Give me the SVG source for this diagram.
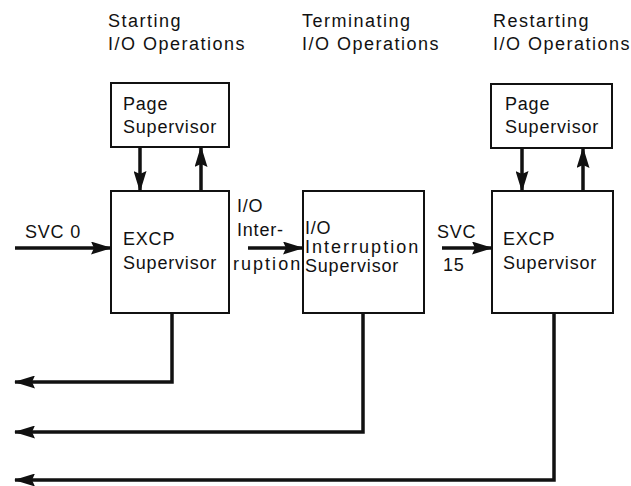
<svg xmlns="http://www.w3.org/2000/svg" width="631" height="486" viewBox="0 0 631 486">
  <defs>
    <style>
      text { font-family: "Liberation Sans", Arial, sans-serif; font-size: 18px; letter-spacing: 0.8px; fill: #111; }
      .head { letter-spacing: 1.5px; }
      .box { fill: #fff; stroke: #111; stroke-width: 2; }
      .wire { fill: none; stroke: #111; stroke-width: 3.5; }
    </style>
    <marker id="head" viewBox="0 0 21 13" refX="20" refY="6.5" markerWidth="21" markerHeight="13" markerUnits="userSpaceOnUse" orient="auto">
      <path d="M0,0 L21,6.5 L0,13 L3,6.5 Z" fill="#111"/>
    </marker>
  </defs>

  <rect width="631" height="486" fill="#fff"/>

  <!-- column headings -->
  <text class="head" x="108" y="27">Starting<tspan x="108" y="50">I/O Operations</tspan></text>
  <text class="head" x="302" y="27">Terminating<tspan x="302" y="50">I/O Operations</tspan></text>
  <text class="head" x="493" y="27">Restarting<tspan x="493" y="50">I/O Operations</tspan></text>

  <g id="page-supervisor-1">
    <rect class="box" x="111" y="83" width="118" height="64"/>
    <text x="123" y="110">Page<tspan x="123" y="133">Supervisor</tspan></text>
  </g>

  <g id="excp-supervisor-1">
    <rect class="box" x="111" y="191" width="118" height="122"/>
    <text x="123" y="245">EXCP<tspan x="123" y="269">Supervisor</tspan></text>
  </g>

  <g id="io-interruption-supervisor">
    <rect class="box" x="303" y="191" width="121" height="122"/>
    <text x="305" y="234">I/O</text>
    <text x="305" y="253" textLength="114" lengthAdjust="spacing">Interruption</text>
    <text x="305" y="272">Supervisor</text>
  </g>

  <g id="page-supervisor-2">
    <rect class="box" x="491" y="84" width="121" height="64"/>
    <text x="505" y="110">Page<tspan x="505" y="133">Supervisor</tspan></text>
  </g>

  <g id="excp-supervisor-2">
    <rect class="box" x="492" y="191" width="121" height="122"/>
    <text x="503" y="245">EXCP<tspan x="503" y="269">Supervisor</tspan></text>
  </g>

  <!-- connector labels -->
  <text x="25" y="238">SVC 0</text>
  <text x="237" y="212">I/O<tspan x="237" y="236">Inter-</tspan></text>
  <text x="233" y="270" textLength="68" lengthAdjust="spacing">ruption</text>
  <text x="437" y="238">SVC<tspan x="443" y="271">15</tspan></text>

  <g id="connectors">
    <line class="wire" x1="15" y1="248" x2="111" y2="248" marker-end="url(#head)"/>
    <line class="wire" x1="248" y1="248" x2="303" y2="248" marker-end="url(#head)"/>
    <line class="wire" x1="442" y1="248" x2="492" y2="248" marker-end="url(#head)"/>

    <line class="wire" x1="140" y1="147" x2="140" y2="191" marker-end="url(#head)"/>
    <line class="wire" x1="201" y1="191" x2="201" y2="147" marker-end="url(#head)"/>
    <line class="wire" x1="522" y1="148" x2="522" y2="191" marker-end="url(#head)"/>
    <line class="wire" x1="583" y1="191" x2="583" y2="148" marker-end="url(#head)"/>

    <polyline class="wire" points="172,313 172,382 15,382" marker-end="url(#head)"/>
    <polyline class="wire" points="363,313 363,432 15,432" marker-end="url(#head)"/>
    <polyline class="wire" points="554,313 554,480 15,480" marker-end="url(#head)"/>
  </g>
</svg>
